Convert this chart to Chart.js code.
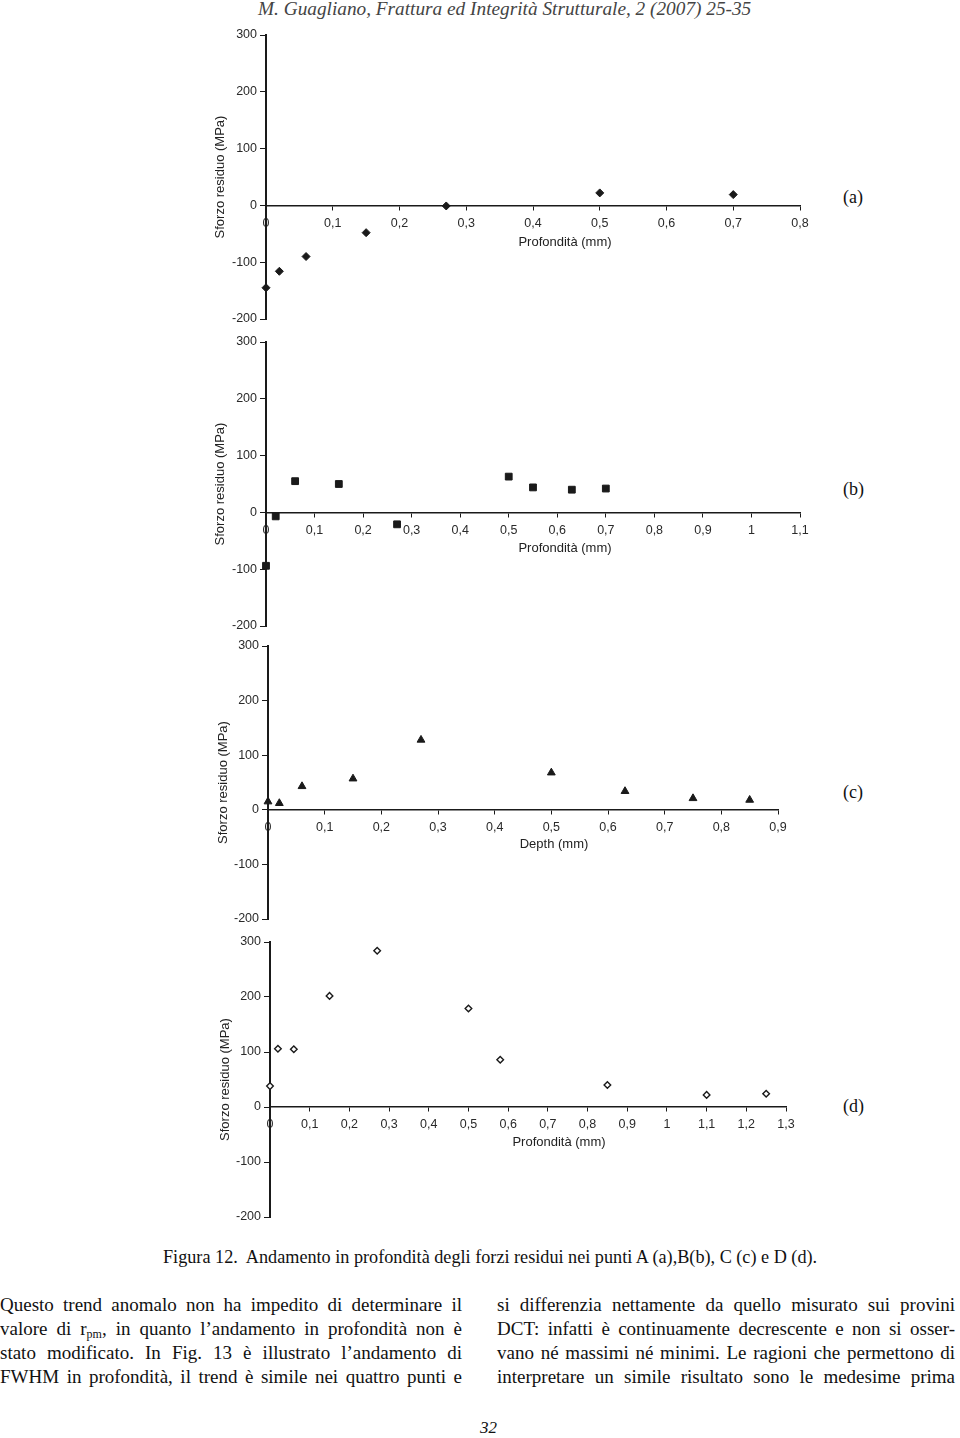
<!DOCTYPE html>
<html>
<head>
<meta charset="utf-8">
<script src="https://cdn.jsdelivr.net/npm/chart.js@4.4.1/dist/chart.umd.min.js"></script>
<style>
  html, body { margin: 0; padding: 0; background: #fff; }
  body { width: 960px; height: 1438px; position: relative; overflow: hidden;
         font-family: "Liberation Serif", "Times New Roman", serif; color: #111; }
  canvas { position: absolute; }
  .txt { position: absolute; white-space: nowrap; }
  .xtitle { position: absolute; white-space: nowrap; font-family: "Liberation Sans", Arial, sans-serif;
            font-size: 13px; color: #222; transform: translate(-50%, -50%); }
  .tag { position: absolute; font-size: 18px; line-height: 18px; transform: translateY(-50%); }
  .col { position: absolute; font-size: 19px; line-height: 24px; }
  .col div { text-align: justify; text-align-last: justify; }
  sub { font-size: 12px; vertical-align: -3px; line-height: 0; }
</style>
</head>
<body>

<div class="txt" id="header" style="left:258px; top:-1px; font-style:italic; font-size:19.3px; line-height:19px; color:#444;">M. Guagliano, Frattura ed Integrità Strutturale, 2 (2007) 25-35</div>

<canvas id="chartA"></canvas>
<canvas id="chartB"></canvas>
<canvas id="chartC"></canvas>
<canvas id="chartD"></canvas>

<div class="xtitle" style="left:565px; top:241px;">Profondità (mm)</div>
<div class="xtitle" style="left:565px; top:547px;">Profondità (mm)</div>
<div class="xtitle" style="left:554px; top:843px;">Depth (mm)</div>
<div class="xtitle" style="left:559px; top:1141px;">Profondità (mm)</div>

<div class="tag" style="left:843px; top:197px;">(a)</div>
<div class="tag" style="left:843px; top:489px;">(b)</div>
<div class="tag" style="left:843px; top:792px;">(c)</div>
<div class="tag" style="left:843px; top:1106px;">(d)</div>

<div class="txt" id="caption" style="left:163px; top:1247px; font-size:18.2px; line-height:21px;">Figura 12.&nbsp; Andamento in profondità degli forzi residui nei punti A (a),B(b), C (c) e D (d).</div>

<div class="col" style="left:0px; top:1293px; width:462px;">
  <div>Questo trend anomalo non ha impedito di determinare il</div>
  <div>valore di r<sub>pm</sub>, in quanto l’andamento in profondità non è</div>
  <div>stato modificato. In Fig. 13 è illustrato l’andamento di</div>
  <div>FWHM in profondità, il trend è simile nei quattro punti e</div>
</div>
<div class="col" style="left:497px; top:1293px; width:458px;">
  <div>si differenzia nettamente da quello misurato sui provini</div>
  <div>DCT: infatti è continuamente decrescente e non si osser-</div>
  <div>vano né massimi né minimi. Le ragioni che permettono di</div>
  <div>interpretare un simile risultato sono le medesime prima</div>
</div>

<div class="txt" style="left:480px; top:1419px; font-style:italic; font-size:17px; line-height:18px;">32</div>

<script>
"use strict";

// Residual stress vs depth, points A, B, C, D
const depthA = [0, 0.02, 0.06, 0.15, 0.27, 0.5, 0.7];
const stressA = [-145, -116, -90, -48, -1, 22, 19];

const depthB = [0, 0.02, 0.06, 0.15, 0.27, 0.5, 0.55, 0.63, 0.7];
const stressB = [-94, -7, 55, 50, -21, 63, 44, 40, 42];

const depthC = [0, 0.02, 0.06, 0.15, 0.27, 0.5, 0.63, 0.75, 0.85];
const stressC = [15, 12, 43, 57, 128, 68, 34, 21, 18];

const depthD = [0, 0.02, 0.06, 0.15, 0.27, 0.5, 0.58, 0.85, 1.1, 1.25];
const stressD = [38, 106, 105, 202, 284, 179, 86, 40, 22, 24];

// axis ranges / tick labels
const xMaxA = 0.8, xMaxB = 1.1, xMaxC = 0.9, xMaxD = 1.3;
const xStep = 0.1;
const yMin = -200, yMax = 300, yStep = 100;
const yTitle = "Sforzo residuo (MPa)";

const axisFont = { family: "'Liberation Sans', Arial, sans-serif", size: 12.5 };
const ink = "#1a1a1a";

const toXY = (xs, ys) => xs.map((x, i) => ({ x: x, y: ys[i] }));
const fmtComma = v => String(Math.round(v * 10) / 10).replace(".", ",");

const makePanel = (id, box, xMax, points, marker) => {
  const canvas = document.getElementById(id);
  const padTop = 15, padBottom = 15, padRight = 25;
  const left = 200;
  canvas.width = box.right - left + padRight;
  canvas.height = box.bottom - box.top + padTop + padBottom;
  canvas.style.left = left + "px";
  canvas.style.top = (box.top - padTop) + "px";

  const yWidth = box.left - left;

  return new Chart(canvas, {
    type: "scatter",
    data: {
      datasets: [{
        data: points,
        pointStyle: marker.style,
        pointRadius: marker.radius,
        pointHoverRadius: marker.radius,
        backgroundColor: marker.fill,
        borderColor: ink,
        borderWidth: marker.border,
        clip: false
      }]
    },
    options: {
      responsive: false,
      animation: false,
      devicePixelRatio: 1,
      layout: { padding: { top: padTop, bottom: padBottom, left: 0, right: padRight } },
      plugins: { legend: { display: false }, tooltip: { enabled: false } },
      scales: {
        x: {
          type: "linear",
          position: { y: 0 },
          min: 0,
          max: xMax,
          grid: { drawOnChartArea: false, drawTicks: true, tickLength: 4, color: ink, lineWidth: 1 },
          border: { display: true, color: ink, width: 1.5 },
          ticks: { stepSize: xStep, padding: 6.5, color: "#2a2a2a", font: axisFont,
                   maxRotation: 0, autoSkip: false, callback: fmtComma },
          afterFit: s => { s.paddingLeft = 0; s.paddingRight = 0; }
        },
        y: {
          type: "linear",
          position: "left",
          min: yMin,
          max: yMax,
          grid: { drawOnChartArea: false, drawTicks: true, tickLength: 6, color: ink, lineWidth: 1 },
          border: { display: true, color: ink, width: 2 },
          ticks: { stepSize: yStep, padding: 3, color: "#2a2a2a", font: axisFont },
          title: { display: true, text: yTitle, color: "#222",
                   font: { family: "'Liberation Sans', Arial, sans-serif", size: 13 },
                   padding: { top: box.titleX - left - 7.8, bottom: 0 } },
          afterFit: s => { s.width = yWidth; s.paddingTop = 0; s.paddingBottom = 0; }
        }
      }
    }
  });
};

makePanel("chartA", { left: 266, right: 800, top: 35, bottom: 319, titleX: 220.5 }, xMaxA,
  toXY(depthA, stressA), { style: "rectRot", radius: 4, fill: ink, border: 1 });

makePanel("chartB", { left: 266, right: 800, top: 342, bottom: 626, titleX: 220.6 }, xMaxB,
  toXY(depthB, stressB), { style: "rect", radius: 4.8, fill: ink, border: 1 });

makePanel("chartC", { left: 268, right: 778, top: 646, bottom: 919, titleX: 223.7 }, xMaxC,
  toXY(depthC, stressC), { style: "triangle", radius: 4.5, fill: ink, border: 1 });

makePanel("chartD", { left: 270, right: 786, top: 942, bottom: 1217, titleX: 225 }, xMaxD,
  toXY(depthD, stressD), { style: "rectRot", radius: 3.3, fill: "#fff", border: 1.4 });
</script>
</body>
</html>
